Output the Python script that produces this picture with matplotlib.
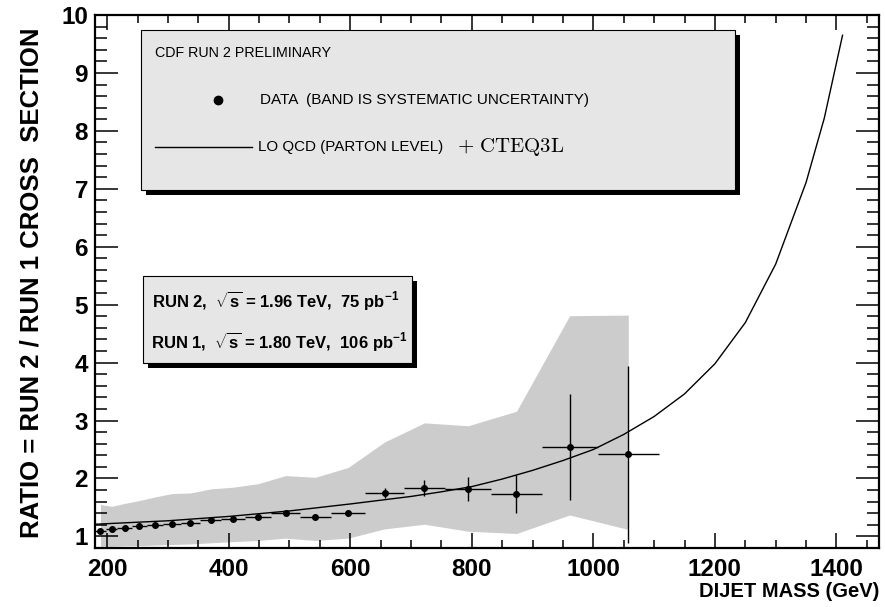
import numpy as np
import matplotlib
matplotlib.use("Agg")
import matplotlib.pyplot as plt
from matplotlib.patches import Rectangle
from matplotlib.lines import Line2D
from matplotlib.ticker import MultipleLocator

# dijet mass bins (GeV)
bin_lo = [180, 198, 217, 241, 265, 292, 321, 353, 388, 427, 470, 517, 568, 625, 688, 756, 832, 915, 1007]
bin_hi = [198, 217, 241, 265, 292, 321, 353, 388, 427, 470, 517, 568, 625, 688, 756, 832, 915, 1007, 1108]

# measured run2/run1 ratio with statistical errors
ratio = [1.09, 1.12, 1.14, 1.18, 1.20, 1.22, 1.24, 1.28, 1.30, 1.33, 1.41, 1.34, 1.41,
         1.75, 1.84, 1.82, 1.73, 2.54, 2.42]
stat_err = [0.02, 0.02, 0.02, 0.02, 0.02, 0.02, 0.02, 0.02, 0.03, 0.03, 0.03, 0.04, 0.05,
            0.09, 0.14, 0.21, 0.33, 0.91, 1.53]

# systematic uncertainty band
syst_hi = [1.55, 1.52, 1.57, 1.62, 1.68, 1.74, 1.75, 1.82, 1.85, 1.91, 2.05, 2.02, 2.19,
           2.63, 2.96, 2.91, 3.16, 4.81, 4.82]
syst_lo = [0.83, 0.83, 0.84, 0.84, 0.85, 0.86, 0.87, 0.89, 0.91, 0.93, 0.97, 0.93, 0.97,
           1.13, 1.21, 1.09, 1.05, 1.37, 1.12]

# LO QCD prediction (CTEQ3L)
qcd_mass = [180, 200, 300, 400, 500, 600, 700, 750, 800, 850, 900, 950, 1000, 1050, 1100,
            1150, 1200, 1250, 1300, 1350, 1380, 1410]
qcd_ratio = [1.21, 1.22, 1.27, 1.345, 1.44, 1.56, 1.69, 1.77, 1.86, 1.99, 2.14, 2.31, 2.50,
             2.76, 3.07, 3.46, 3.98, 4.69, 5.70, 7.11, 8.22, 9.65]

xticks = [200, 400, 600, 800, 1000, 1200, 1400]
yticks = [1, 2, 3, 4, 5, 6, 7, 8, 9, 10]

plt.rcParams['font.family'] = 'Liberation Sans'
plt.rcParams['mathtext.fontset'] = 'custom'
plt.rcParams['mathtext.rm'] = 'Liberation Sans:bold'
plt.rcParams['mathtext.bf'] = 'Liberation Sans:bold'

W, H = 885, 607
fig = plt.figure(figsize=(W / 100, H / 100), dpi=100)
ax = fig.add_axes([95 / W, 1 - 548 / H, (879 - 95) / W, (548 - 15) / H])

mass = (np.array(bin_lo) + np.array(bin_hi)) / 2
xerr = [mass - np.array(bin_lo), np.array(bin_hi) - mass]

ax.fill_between(mass, syst_lo, syst_hi, color='#cccccc', lw=0, zorder=1)
ax.plot(qcd_mass, qcd_ratio, color='k', lw=1.0, zorder=2)
ax.errorbar(mass, ratio, xerr=xerr, yerr=stat_err, fmt='o', color='k', ms=4,
            elinewidth=1.0, capsize=0, zorder=3)

ax.set_xlim(180, 1470)
ax.set_ylim(0.8, 10)
ax.set_xticks(xticks)
ax.set_yticks(yticks)
ax.xaxis.set_minor_locator(MultipleLocator(50))
ax.yaxis.set_minor_locator(MultipleLocator(0.2))
ax.tick_params(which='both', direction='in', top=True, right=True, width=1.1)
ax.tick_params(axis='x', which='major', length=11, pad=7)
ax.tick_params(axis='x', which='minor', length=5.5)
ax.tick_params(axis='y', which='major', length=16.5, pad=5)
ax.tick_params(axis='y', which='minor', length=8.5)
for lab in ax.get_xticklabels() + ax.get_yticklabels():
    lab.set_fontsize(17.5)
    lab.set_fontweight('bold')
for sp in ax.spines.values():
    sp.set_linewidth(1.6)

ax.set_xlabel('DIJET MASS (GeV)', fontsize=14.5, fontweight='bold', loc='right')
ax.xaxis.set_label_coords(1.0, -0.082)
ax.xaxis.label.set_va('center')
ax.set_ylabel('RATIO = RUN 2 / RUN 1 CROSS  SECTION', fontsize=18.5, fontweight='bold', loc='top')
ax.yaxis.set_label_coords(-0.081, 0.976)
ax.yaxis.label.set_va('center')


def fx(px):
    return px / W


def fy(py):
    return 1 - py / H


def pave(x0, y0, x1, y1, off=5):
    # shadowed text box, pixel coordinates from the top left corner
    shadow = Rectangle((fx(x0 + off), fy(y1 + off)), fx(x1) - fx(x0), fy(y0) - fy(y1),
                       transform=fig.transFigure, facecolor='black', edgecolor='none', zorder=5)
    box = Rectangle((fx(x0), fy(y1)), fx(x1) - fx(x0), fy(y0) - fy(y1),
                    transform=fig.transFigure, facecolor='#e6e6e6', edgecolor='black',
                    lw=0.8, zorder=6)
    fig.patches.extend([shadow, box])


pave(141, 30, 735, 190)
fig.text(fx(155), fy(53), 'CDF RUN 2 PRELIMINARY', fontsize=10.3, va='center', zorder=7)
fig.lines.append(Line2D([fx(218)], [fy(100)], marker='o', ms=6, color='k',
                        transform=fig.transFigure, zorder=7))
fig.text(fx(260), fy(100), 'DATA  (BAND IS SYSTEMATIC UNCERTAINTY)', fontsize=11,
         va='center', zorder=7)
fig.lines.append(Line2D([fx(155), fx(252)], [fy(147), fy(147)], color='k', lw=1.0,
                        transform=fig.transFigure, zorder=7))
fig.text(fx(258), fy(147), 'LO QCD (PARTON LEVEL)', fontsize=10.9, va='center', zorder=7)
fig.text(fx(457), fy(147), r'$+\ \mathrm{CTEQ3L}$', fontsize=15, va='center',
         math_fontfamily='cm', zorder=7)

pave(143, 276, 412, 363)
fig.text(fx(152), fy(301), r'RUN 2,  $\sqrt{\mathbf{s}}$ = 1.96 TeV,  75 pb$^{\mathbf{-1}}$',
         fontsize=12, fontweight='bold', va='center', zorder=7)
fig.text(fx(151), fy(341), r'RUN 1,  $\sqrt{\mathbf{s}}$ = 1.80 TeV,  106 pb$^{\mathbf{-1}}$',
         fontsize=12, fontweight='bold', va='center', zorder=7)

fig.savefig('out.png', dpi=100)
